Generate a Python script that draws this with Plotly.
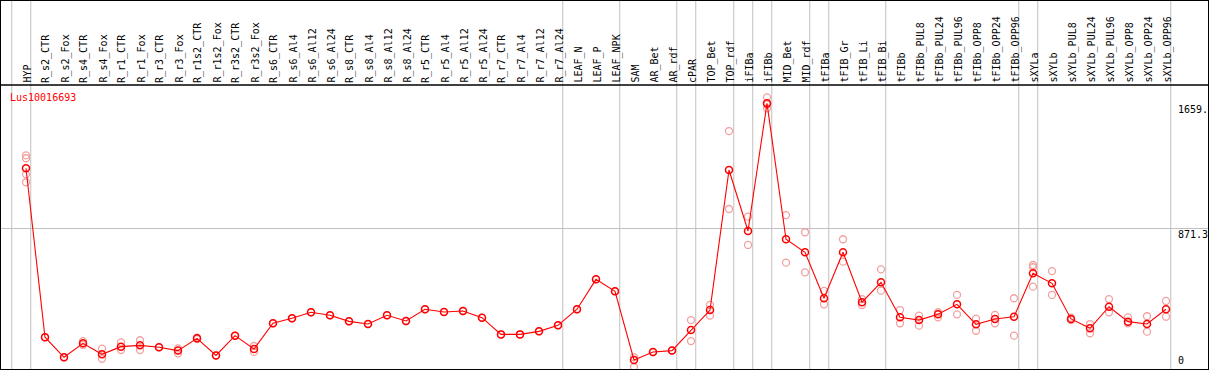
import plotly.graph_objects as go

title = "Lus10016693"

categories = ["HYP", "R_s2_CTR", "R_s2_Fox", "R_s4_CTR", "R_s4_Fox", "R_r1_CTR", "R_r1_Fox",
              "R_r3_CTR", "R_r3_Fox", "R_r1s2_CTR", "R_r1s2_Fox", "R_r3s2_CTR", "R_r3s2_Fox",
              "R_s6_CTR", "R_s6_Al4", "R_s6_Al12", "R_s6_Al24", "R_s8_CTR", "R_s8_Al4",
              "R_s8_Al12", "R_s8_Al24", "R_r5_CTR", "R_r5_Al4", "R_r5_Al12", "R_r5_Al24",
              "R_r7_CTR", "R_r7_Al4", "R_r7_Al12", "R_r7_Al24", "LEAF_N", "LEAF_P", "LEAF_NPK",
              "SAM", "AR_Bet", "AR_rdf", "cPAR", "TOP_Bet", "TOP_rdf", "iFIBa", "iFIBb",
              "MID_Bet", "MID_rdf", "tFIBa", "tFIB_Gr", "tFIB_Li", "tFIB_Bi", "tFIBb",
              "tFIBb_PUL8", "tFIBb_PUL24", "tFIBb_PUL96", "tFIBb_OPP8", "tFIBb_OPP24",
              "tFIBb_OPP96", "sXYLa", "sXYLb", "sXYLb_PUL8", "sXYLb_PUL24", "sXYLb_PUL96",
              "sXYLb_OPP8", "sXYLb_OPP24", "sXYLb_OPP96"]

mean_values = [1249, 187, 61, 149, 80, 128, 136, 124, 103, 180, 73, 197, 113,
               275, 306, 344, 325, 287, 270, 325, 289, 363, 346, 352, 310,
               205, 205, 224, 262, 363, 551, 476,
               44, 94, 103, 233, 358, 1238, 855, 1657,
               803, 721, 432, 721, 407, 532, 312,
               295, 331, 394, 268, 302, 316,
               589, 526, 302, 243, 379, 285, 270, 363]

replicate_values = [[1330, 1312, 1211, 1161], [187], [61], [163, 140], [115, 52], [155, 107],
                    [168, 107], [124], [117, 86], [185, 175], [73], [197], [132, 95],
                    [275], [306], [344], [325], [287], [270], [325], [289], [363], [346],
                    [352], [310], [205], [205], [224], [262], [363], [551], [476],
                    [61, 0], [94], [103], [295, 163], [390, 323], [1483, 993], [945, 767],
                    [1695, 1626, 1650], [955, 656], [847, 595], [478, 394], [803, 662],
                    [427, 390], [614, 480], [358, 275], [323, 260], [344, 312], [453, 331],
                    [304, 228], [327, 275], [432, 197], [641, 627, 505], [603, 453],
                    [295, 310], [270, 212], [427, 344], [312, 275], [319, 222], [415, 316]]

# groups are separated after these categories (None = before the first one)
group_ends = [None, "HYP", "R_r7_Al24", "LEAF_NPK", "AR_rdf", "cPAR", "TOP_rdf", "iFIBa",
              "iFIBb", "MID_rdf", "tFIBa", "tFIB_Bi", "tFIBb_OPP96", "sXYLa", "sXYLb_OPP96"]

y_tick_values = [1659, 871.3, 0]
y_tick_labels = ["1659.", "871.3", "0"]

FONT = "DejaVu Sans Mono"
W, H = 1209, 370
ML, MR, MT, MB = 1, 1, 1, 1
PW, PH = W - ML - MR, H - MT - MB


def py_to_paper(py):
    return (H - MB - py) / PH


def px_to_paper(px):
    return (px - ML) / PW


rep_x, rep_y = [], []
for c, reps in zip(categories, replicate_values):
    for r in reps:
        rep_x.append(c)
        rep_y.append(r)

fig = go.Figure()
fig.add_trace(go.Scatter(
    x=rep_x, y=rep_y, mode="markers",
    marker=dict(symbol="circle-open", size=7, color="#f2a0a0", line=dict(width=1.3)),
    hoverinfo="skip", showlegend=False))
fig.add_trace(go.Scatter(
    x=categories, y=mean_values, mode="lines+markers",
    line=dict(color="#ff0000", width=1.1),
    marker=dict(symbol="circle-open", size=7, color="#ff0000", line=dict(width=1.5)),
    showlegend=False))

shapes = []
for ce in group_ends:
    idx = -1 if ce is None else categories.index(ce)
    shapes.append(dict(type="line", xref="x", yref="paper", x0=idx + 0.25, x1=idx + 0.25,
                       y0=0, y1=1.01, line=dict(color="#c0c0c0", width=1), layer="below"))
shapes.append(dict(type="line", xref="paper", yref="paper", x0=0, x1=1,
                   y0=py_to_paper(85), y1=py_to_paper(85), line=dict(color="black", width=1.5)))

annotations = []
for c in categories:
    annotations.append(dict(text=c, x=c, xref="x", y=py_to_paper(84), yref="paper",
                            textangle=-90, xanchor="center", yanchor="bottom", showarrow=False,
                            xshift=1.5,
                            font=dict(family=FONT, size=10, color="black"), borderpad=0))
annotations.append(dict(text=title, x=px_to_paper(9), xref="paper", y=py_to_paper(97),
                        yref="paper", xanchor="left", yanchor="middle", showarrow=False,
                        font=dict(family=FONT, size=10, color="#ff0000"), borderpad=0))
for v, t in zip(y_tick_values, y_tick_labels):
    annotations.append(dict(text=t, x=px_to_paper(1177), xref="paper", y=v, yref="y",
                            xanchor="left", yanchor="bottom" if v == 0 else "top",
                            showarrow=False, borderpad=0,
                            font=dict(family=FONT, size=10, color="black")))

fig.update_layout(
    width=W, height=H, margin=dict(l=ML, r=MR, t=MT, b=MB),
    paper_bgcolor="white", plot_bgcolor="white",
    shapes=shapes, annotations=annotations, hovermode=False,
    xaxis=dict(type="category", range=[(ML - 26) / 19, (W - MR - 26) / 19],
               showgrid=False, zeroline=False, showticklabels=False, ticks="",
               showline=True, mirror=True, linecolor="black", linewidth=1),
    yaxis=dict(range=[(367 - (H - MB)) / 0.1591, (367 - MT) / 0.1591],
               tickvals=[871.3], showticklabels=False, ticks="",
               showgrid=True, gridcolor="#c0c0c0", gridwidth=1, zeroline=False,
               showline=True, mirror=True, linecolor="black", linewidth=1),
)

fig.write_html("out.html", config={"displayModeBar": False},
               post_script="document.body.style.margin='0px';document.body.style.padding='0px';")
